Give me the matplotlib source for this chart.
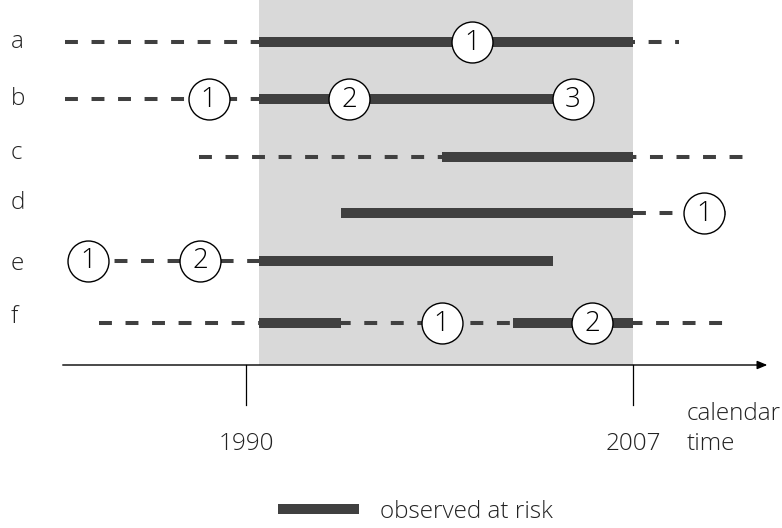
import matplotlib
matplotlib.use("Agg")
import matplotlib.pyplot as plt
from matplotlib.lines import Line2D
from matplotlib import font_manager as fm

# pick a light weight font if one is installed
_pref = ["Open Sans", "Noto Sans", "Lato", "Inter", "Roboto"]
_font = "Open Sans"
_weight = "normal"
_found = False
for fam in _pref:
    for f in fm.fontManager.ttflist:
        if f.name == fam and isinstance(f.weight, int) and f.weight <= 300 and f.weight >= 250 and f.style == 'normal':
            _font, _weight, _found = fam, f.weight, True
            break
    if _found:
        break

plt.rcParams['font.family'] = [_font, 'DejaVu Sans']
plt.rcParams['lines.scale_dashes'] = False

# ---- data (x in calendar years) ----
subjects = ["a", "b", "c", "d", "e", "f"]
row_y = [42.3, 99.0, 157.0, 212.7, 260.5, 323.0]      # vertical row positions
label_baseline = [48.3, 105.0, 159.0, 209.0, 270.0, 323.0]
dashed_spans = [(1982.05, 2009.02), (1982.05, 1990.57), (1987.92, 2011.83),
                (2007.0, 2011.44), (1983.07, 1990.57), (1983.56, 2011.04)]
solid_spans = [[(1990.57, 2007.0)],
               [(1990.57, 2004.0)],
               [(1998.60, 2007.0)],
               [(1994.16, 2007.0)],
               [(1990.57, 2003.49)],
               [(1990.57, 1994.19), (2001.75, 2007.0)]]
event_x = [[1999.93],
           [1988.36, 1994.54, 2004.35],
           [],
           [2010.12],
           [1983.07, 1987.98],
           [1998.60, 2005.22]]
event_labels = [["1"], ["1", "2", "3"], [], ["1"], ["1", "2"], ["1", "2"]]
window = (1990.57, 2007.0)
tick_years = [1990, 2007]
tick_labels = ["1990", "2007"]
axis_range = (1981.95, 2012.9)
legend_label = "observed at risk"

# ---- style ----
dark = "#404040"
shade = "#d9d9d9"
txt = "#222222"
fs = 17.5
px_per_year = 22.765
x0 = 1990 - 246 / px_per_year
x1 = x0 + 782 / px_per_year

fig = plt.figure(figsize=(7.82, 5.28), dpi=100)
ax = fig.add_axes([0, 0, 1, 1])
ax.set_xlim(x0, x1)
ax.set_ylim(528, 0)
ax.axis("off")

axis_y = 365
ax.axvspan(window[0], window[1], ymin=1 - axis_y / 528, ymax=1, color=shade, zorder=0, lw=0)

for name, y, yb, ds, ss, ex, el in zip(subjects, row_y, label_baseline, dashed_spans,
                                        solid_spans, event_x, event_labels):
    ax.text(x0 + 11 / px_per_year, yb, name, fontsize=fs, weight=_weight,
            ha='left', va='baseline', color=txt)
    ax.plot(ds, [y, y], color=dark, lw=2.9, dashes=(9.3, 9.8), solid_capstyle='butt',
            dash_capstyle='butt', zorder=1)
    for s in ss:
        ax.plot(s, [y, y], color=dark, lw=7.2, solid_capstyle='butt', zorder=2)
    if ex:
        ax.scatter(ex, [y] * len(ex), s=870, facecolor='white', edgecolor='black',
                   linewidths=1.0, zorder=3)
        for xv, lab in zip(ex, el):
            ax.text(xv, y + 1, lab, fontsize=20, weight=_weight, ha='center',
                    va='center', color='black', zorder=4)

# time axis with arrow
ax.annotate("", xy=(axis_range[1], axis_y), xytext=(axis_range[0], axis_y),
            arrowprops=dict(arrowstyle='-|>,head_length=0.6,head_width=0.25',
                            color='black', lw=1.0, shrinkA=0, shrinkB=0), zorder=5)
for t, lab in zip(tick_years, tick_labels):
    ax.plot([t, t], [axis_y, axis_y + 40], color='black', lw=0.9, zorder=5)
    ax.text(t, 450, lab, fontsize=fs, weight=_weight, ha='center', va='baseline', color=txt)
ax.text(x0 + 687 / px_per_year, 420, "calendar", fontsize=fs, weight=_weight,
        ha='left', va='baseline', color=txt)
ax.text(x0 + 687 / px_per_year, 450, "time", fontsize=fs, weight=_weight,
        ha='left', va='baseline', color=txt)

handle = Line2D([], [], color=dark, lw=7.2, solid_capstyle='butt')
leg = ax.legend([handle], [legend_label], loc='center left',
                bbox_to_anchor=(278 / 782, 1 - 512 / 528),
                frameon=False, handlelength=81 * 0.72 / fs, handletextpad=21 * 0.72 / fs,
                borderpad=0, borderaxespad=0,
                prop=dict(family=[_font, 'DejaVu Sans'], weight=_weight, size=fs))
for t in leg.get_texts():
    t.set_color(txt)

fig.savefig("out.png", dpi=100)
